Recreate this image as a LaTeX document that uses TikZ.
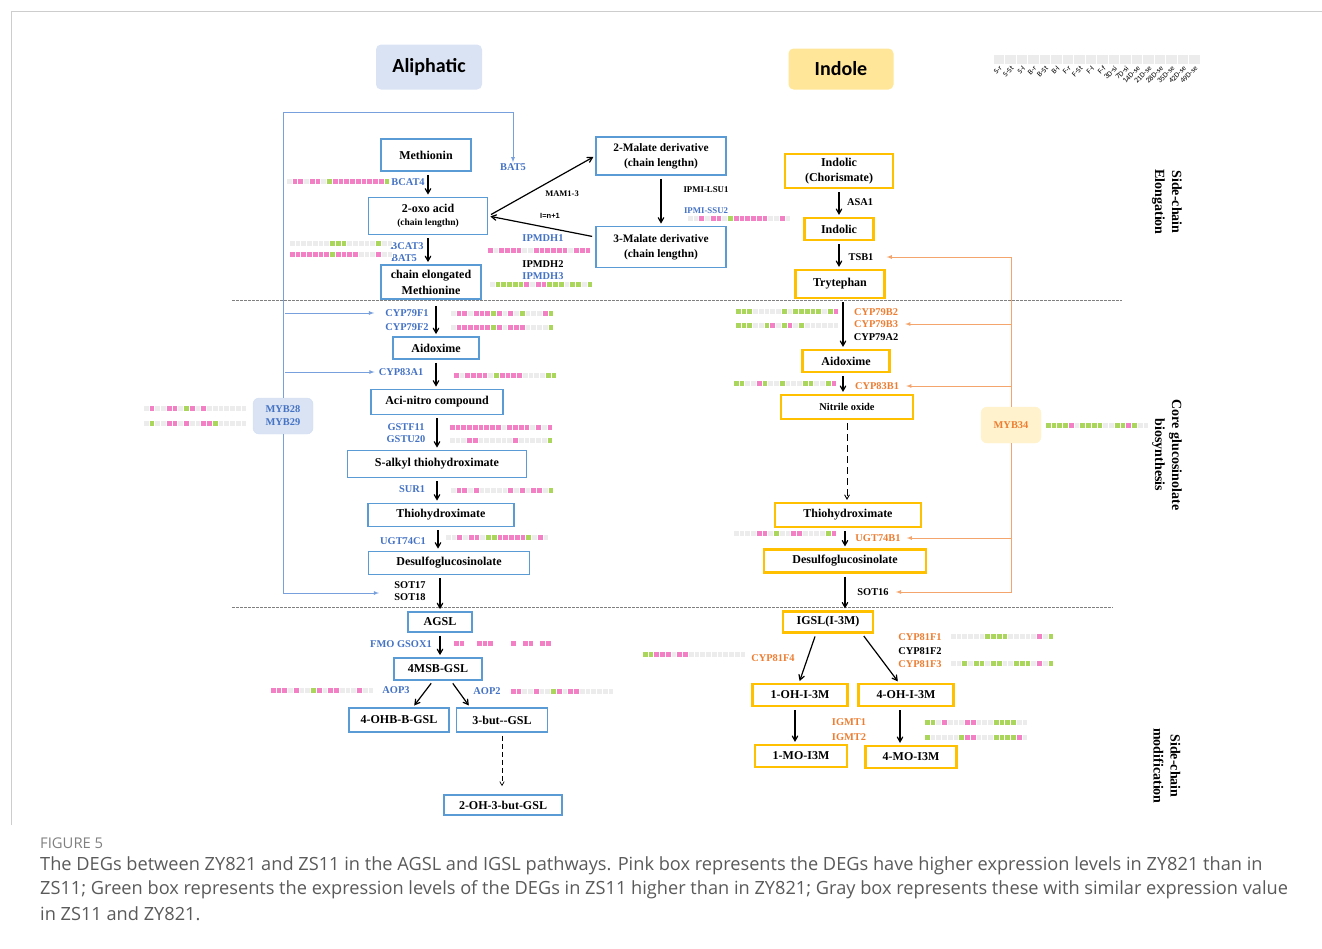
\documentclass[tikz,border=0pt]{standalone}
\usepackage{fontspec}
\setmainfont{Liberation Serif}
\newfontfamily\calibri{Carlito}
\newfontfamily\arialf{Liberation Sans}
\newfontfamily\capfont{Open Sans}
\usetikzlibrary{arrows}

\definecolor{aliblue}{RGB}{91,155,213}
\definecolor{indyel}{RGB}{255,192,0}
\definecolor{genblue}{RGB}{68,114,196}
\definecolor{genorg}{RGB}{237,125,49}
\definecolor{regblue}{RGB}{120,160,220}
\definecolor{regorg}{RGB}{244,165,110}
\definecolor{titblue}{RGB}{218,227,243}
\definecolor{tityel}{RGB}{255,230,153}
\definecolor{mybfill}{RGB}{218,227,243}
\definecolor{mybofill}{RGB}{255,242,204}
\definecolor{heatp}{RGB}{243,128,196}
\definecolor{heatg}{RGB}{169,214,91}
\definecolor{heatx}{RGB}{236,236,236}
\definecolor{heatw}{RGB}{255,255,255}
\definecolor{capgray}{RGB}{90,90,90}
\definecolor{framegray}{RGB}{205,205,205}

\tikzstyle{abox}    = [draw=aliblue, line width=1.8pt, align=center, inner sep=1pt, font=\bfseries\fontsize{12}{16}\selectfont]
\tikzstyle{ibox}    = [draw=indyel, line width=2.2pt, align=center, inner sep=1pt, font=\bfseries\fontsize{12}{15}\selectfont]
\tikzstyle{gene}    = [inner sep=1pt, font=\bfseries\fontsize{10.4}{12}\selectfont]
\tikzstyle{bgene}   = [gene, text=genblue]
\tikzstyle{ogene}   = [gene, text=genorg]
\tikzstyle{sgene}   = [inner sep=1pt, font=\bfseries\fontsize{8.8}{10}\selectfont]
\tikzstyle{flow}    = [->, >=angle 60, line width=1.2pt, shorten >=2pt, shorten <=3pt]
\tikzstyle{breg}    = [draw=regblue, line width=.8pt, -latex]
\tikzstyle{oreg}    = [draw=regorg, line width=.8pt, -latex]
\tikzstyle{dashsep} = [draw=gray, dash pattern=on 2.5pt off 1.5pt, line width=.6pt]
\tikzstyle{sidelab} = [rotate=-90, align=center, font=\bfseries\fontsize{14}{17}\selectfont]
\tikzstyle{titlebox}= [rounded corners=5pt, font=\calibri\bfseries\fontsize{20}{24}\selectfont]
\tikzstyle{regbox}  = [rounded corners=6pt, align=center, minimum width=60pt, minimum height=36pt, font=\bfseries\fontsize{10.4}{13}\selectfont]
\tikzstyle{collab}  = [rotate=45, anchor=east, inner sep=0pt, font=\calibri\fontsize{7.5}{8}\selectfont]
\tikzstyle{captext} = [anchor=west, inner sep=0pt, text=capgray, font=\capfont\fontsize{18.2}{20}\selectfont]

\makeatletter
\newcount\ht@i
\newcommand{\heatrow}[3]{\def\ht@x{#1}\def\ht@y{#2}\ht@i=0 \ht@next#3\relax}
\def\ht@next#1{\ifx#1\relax\let\ht@go\relax\else\def\ht@c{#1}\let\ht@go\ht@cell\fi\ht@go}
\def\ht@cell{\fill[fill=heat\ht@c, draw=white, line width=.4pt] ({\ht@x+5.75*\the\ht@i},{\ht@y-3}) rectangle ++(5.75,6);\advance\ht@i by 1 \ht@next}
\makeatother

\begin{document}
\begin{tikzpicture}[x=1pt, y=-1pt]
      \useasboundingbox (0,0) rectangle (1322,948);
      \draw[framegray, line width=1pt] (11,825) -- (11,11) -- (1322,11);

      \node[titlebox, fill=titblue, minimum width=106pt, minimum height=45pt] (ali)  at (429,67) {Aliphatic};
      \node[titlebox, fill=tityel,  minimum width=105pt, minimum height=41pt] (indl) at (841,69) {Indole};

      \foreach \i in {0,...,17}
        \fill[heatx, draw=white, line width=.5pt] ({993+11.5*\i},54) rectangle ++(11.5,10);
      \foreach \t [count=\i from 0] in {S-r,S-St,S-l,B-r,B-St,B-l,F-r,F-St,F-l,F-f,3D-si,7D-si,14D-se,21D-se,28D-se,35D-se,42D-se,49D-se}
        \node[collab] (col\i) at ({1001+11.5*\i},67) {\t};

      \draw[dashsep] (232,300) -- (1122,300);
      \draw[dashsep] (232,607) -- (1113,607);

      % aliphatic pathway
      \node[abox, minimum width=90pt,  minimum height=32pt] (meth)   at (426,155) {Methionin};
      \node[abox, minimum width=119pt, minimum height=37pt] (oxo)    at (428,216) {2-oxo acid\\[-3pt]{\fontsize{9.5}{11}\selectfont(chain lengthn)}};
      \node[abox, minimum width=100pt, minimum height=34pt] (chain)  at (431,282) {chain elongated\\Methionine};
      \node[abox, minimum width=130pt, minimum height=38pt, font=\bfseries\fontsize{11.4}{15}\selectfont] (mal2) at (661,156) {2-Malate derivative\\(chain lengthn)};
      \node[abox, minimum width=130pt, minimum height=41pt, font=\bfseries\fontsize{11.4}{15}\selectfont] (mal3) at (661,247) {3-Malate derivative\\(chain lengthn)};
      \node[abox, minimum width=86pt,  minimum height=22pt] (aid1)   at (436,348) {Aidoxime};
      \node[abox, minimum width=132pt, minimum height=25pt] (aci)    at (437,402) {Aci-nitro compound};
      \node[abox, minimum width=179pt, minimum height=27pt] (salk)   at (437,464) {S-alkyl thiohydroximate};
      \node[abox, minimum width=146pt, minimum height=23pt] (thio1)  at (441,515) {Thiohydroximate};
      \node[abox, minimum width=161pt, minimum height=23pt] (desulf1) at (449,563) {Desulfoglucosinolate};
      \node[abox, minimum width=64pt,  minimum height=20pt] (agsl)   at (440,622) {AGSL};
      \node[abox, minimum width=88pt,  minimum height=22pt] (msb)    at (438,669) {4MSB-GSL};
      \node[abox, minimum width=100pt, minimum height=24pt] (ohb)    at (399,720) {4-OHB-B-GSL};
      \node[abox, minimum width=91pt,  minimum height=24pt] (but)    at (502,720) {3-but-{}-GSL};
      \node[abox, minimum width=118pt, minimum height=20pt] (oh3)    at (503,805) {2-OH-3-but-GSL};

      % indole pathway
      \node[ibox, minimum width=108pt, minimum height=34pt] (chor)   at (839,171) {Indolic\\(Chorismate)};
      \node[ibox, minimum width=69pt,  minimum height=22pt] (indo)   at (839,229) {Indolic};
      \node[ibox, minimum width=89pt,  minimum height=28pt] (tryp)   at (840,284) {Trytephan};
      \node[ibox, minimum width=87pt,  minimum height=22pt] (aid2)   at (846,361) {Aidoxime};
      \node[ibox, minimum width=132pt, minimum height=24pt, font=\bfseries\fontsize{10.4}{12}\selectfont] (nit) at (847,407) {Nitrile oxide};
      \node[ibox, minimum width=146pt, minimum height=24pt] (thio2)  at (848,515) {Thiohydroximate};
      \node[ibox, minimum width=162pt, minimum height=23pt] (desulf2) at (845,561) {Desulfoglucosinolate};
      \node[ibox, minimum width=90pt,  minimum height=21pt] (igsl)   at (828,622) {IGSL(I-3M)};
      \node[ibox, minimum width=95pt,  minimum height=22pt] (oh1)    at (800,695) {1-OH-I-3M};
      \node[ibox, minimum width=95pt,  minimum height=22pt] (oh4)    at (906,695) {4-OH-I-3M};
      \node[ibox, minimum width=92pt,  minimum height=22pt] (mo1)    at (801,756) {1-MO-I3M};
      \node[ibox, minimum width=91pt,  minimum height=22pt] (mo4)    at (911,757) {4-MO-I3M};

      % enzymes
      \node[bgene] (bcat4)   at (408,182) {BCAT4};
      \node[bgene] (bat5a)   at (513,167) {BAT5};
      \node[bgene] (bcat3)   at (407,246) {BCAT3};
      \node[bgene] (bat5b)   at (404,258) {BAT5};
      \node[gene, font=\bfseries\fontsize{8.5}{10}\selectfont] (mam) at (562,194) {MAM1-3};
      \node[gene, font=\arialf\bfseries\fontsize{7.5}{9}\selectfont] (inc) at (550,216) {I=n+1};
      \node[bgene] (ipmdh1)  at (543,238) {IPMDH1};
      \node[gene]  (ipmdh2)  at (543,264) {IPMDH2};
      \node[bgene] (ipmdh3)  at (543,276) {IPMDH3};
      \node[sgene] (lsu1)    at (706,190) {IPMI-LSU1};
      \node[sgene, text=genblue] (ssu2) at (706,211) {IPMI-SSU2};
      \node[bgene] (cyp79f1) at (407,313) {CYP79F1};
      \node[bgene] (cyp79f2) at (407,327) {CYP79F2};
      \node[bgene] (cyp83a1) at (401,372) {CYP83A1};
      \node[bgene] (gstf11)  at (406,427) {GSTF11};
      \node[bgene] (gstu20)  at (406,439) {GSTU20};
      \node[bgene] (sur1)    at (412,489) {SUR1};
      \node[bgene] (ugt74c1) at (403,541) {UGT74C1};
      \node[gene]  (sot17)   at (410,585) {SOT17};
      \node[gene]  (sot18)   at (410,597) {SOT18};
      \node[bgene] (fmo)     at (401,644) {FMO GSOX1};
      \node[bgene] (aop3)    at (396,690) {AOP3};
      \node[bgene] (aop2)    at (487,691) {AOP2};

      \node[gene]  (asa1)    at (860,202) {ASA1};
      \node[gene]  (tsb1)    at (861,257) {TSB1};
      \node[ogene] (cyp79b2) at (876,312) {CYP79B2};
      \node[ogene] (cyp79b3) at (876,324) {CYP79B3};
      \node[gene]  (cyp79a2) at (876,337) {CYP79A2};
      \node[ogene] (cyp83b1) at (877,386) {CYP83B1};
      \node[ogene] (ugt74b1) at (878,538) {UGT74B1};
      \node[gene]  (sot16)   at (873,592) {SOT16};
      \node[ogene] (cyp81f4) at (773,658) {CYP81F4};
      \node[ogene] (cyp81f1) at (920,637) {CYP81F1};
      \node[gene]  (cyp81f2) at (920,651) {CYP81F2};
      \node[ogene] (cyp81f3) at (920,664) {CYP81F3};
      \node[ogene] (igmt1)   at (849,722) {IGMT1};
      \node[ogene] (igmt2)   at (849,737) {IGMT2};

      % expression strips
      \heatrow{286}{181}{xppxppxgpppppppppg}
      \heatrow{289}{243}{xxxxxxxgggxxxxxgxx}
      \heatrow{289}{254}{pppppppgppppxxxpxx}
      \heatrow{487}{250}{pxppppxxppppppxppp}
      \heatrow{489}{284}{xgggggpxppgggxggxg}
      \heatrow{687}{218}{xxpxppxgppppppxxpx}
      \heatrow{450}{313}{xppxpppgpxpxgxxxpg}
      \heatrow{450}{327}{xppppppgpxpppxxxxg}
      \heatrow{453}{375}{pxppppxgppppxxxxgg}
      \heatrow{449}{427}{pppppppppxppppxpxp}
      \heatrow{449}{440}{xxxppxxxxxxpxxxxxg}
      \heatrow{143}{408}{xpxxppxgpxpxxxxxxx}
      \heatrow{143}{423}{xgxxppxpxxppgxxxxx}
      \heatrow{450}{490}{xppxpxxxxxpxpxppxg}
      \heatrow{445}{537}{xxpxppxggpppppgxpx}
      \heatrow{453}{643}{ppwwpppwwwpwppwppw}
      \heatrow{270}{690}{pppxpxxgpxppxxxpxx}
      \heatrow{510}{691}{ppxxpxxgpxppxxxxxx}
      \heatrow{735}{311}{gggxxxxxgxgggggxgp}
      \heatrow{735}{325}{gggxxgpxgpxgxxxxxx}
      \heatrow{733}{383}{ggxxpgxxgxxxggxxgp}
      \heatrow{1045}{425}{ggggpxggggxxggpgxx}
      \heatrow{733}{533}{xxxxppxgxxppxxxxgp}
      \heatrow{642}{654}{ggpppxppxxxxxxxxxx}
      \heatrow{950}{636}{xxxxxxggggxxxxxpxg}
      \heatrow{950}{663}{xxgxggxggxxgggxpxg}
      \heatrow{924}{722}{ggxpxxxppxxxggggxx}
      \heatrow{924}{737}{gxxxxxgppxxxggggpx}

      % reactions
      \draw[flow] (meth.south -| oxo) -- (oxo.north);
      \draw[flow] (oxo.south) -- (oxo.south |- chain.north);
      \draw[flow] (oxo.east) -- (mal2.west);
      \draw[flow] ([yshift=10pt]mal3.west) -- (oxo.east);
      \draw[flow] (mal2.south) -- (mal3.north);
      \draw[flow, shorten <=6pt] (chain.south -| aid1) -- (aid1.north);
      \draw[flow] (aid1.south) -- (aid1.south |- aci.north);
      \draw[flow] (aci.south) -- (aci.south |- salk.north);
      \draw[flow] (salk.south) -- (salk.south |- thio1.north);
      \draw[flow] ([xshift=-3pt]thio1.south) -- ([xshift=-3pt]thio1.south |- desulf1.north);
      \draw[flow] (desulf1.south -| agsl) -- (agsl.north);
      \draw[flow] (agsl.south) -- (agsl.south |- msb.north);
      \draw[flow] ([xshift=-5pt]msb.south) -- ([xshift=14pt]ohb.north);
      \draw[flow] ([xshift=13pt]msb.south) -- ([xshift=-32pt]but.north);
      \draw[flow, line width=.7pt, dash pattern=on 5pt off 3pt, shorten >=8pt] (but.south) -- (but.south |- oh3.north);

      \draw[flow] (chor.south) -- (indo.north);
      \draw[flow] (indo.south) -- (indo.south |- tryp.north);
      \draw[flow] ([xshift=3pt]tryp.south) -- ([xshift=3pt]tryp.south |- aid2.north);
      \draw[flow] ([xshift=-3pt]aid2.south) -- ([xshift=-3pt]aid2.south |- nit.north);
      \draw[flow, line width=.9pt, dash pattern=on 7pt off 4pt] (nit.south) -- (nit.south |- thio2.north);
      \draw[flow] ([xshift=-3pt]thio2.south) -- ([xshift=-3pt]thio2.south |- desulf2.north);
      \draw[flow] (desulf2.south) -- (desulf2.south |- igsl.north);
      \draw[flow] ([xshift=-12pt]igsl.south) -- ([xshift=-1pt]oh1.north);
      \draw[flow] ([xshift=34pt]igsl.south) -- ([xshift=-7pt]oh4.north);
      \draw[flow] ([xshift=-5pt]oh1.south) -- ([xshift=-6pt]mo1.north);
      \draw[flow] ([xshift=-6pt]oh4.south) -- ([xshift=-11pt]mo4.north);

      % regulators
      \node[regbox, fill=mybfill, draw=regblue!35, text=genblue] (myb) at (283,416) {MYB28\\MYB29};
      \coordinate (btop) at (0,112);
      \coordinate (sotin) at (379,593);
      \draw[breg] (myb.north) -- (myb.north |- btop) -| (bat5a.north);
      \draw[breg] ([xshift=2pt]myb.north |- cyp79f1) -- ([xshift=-10pt]cyp79f1.west);
      \draw[breg] ([xshift=2pt]myb.north |- cyp83a1) -- ([xshift=-3pt]cyp83a1.west);
      \draw[breg] (myb.south) |- (sotin);

      \node[regbox, fill=mybofill, draw=mybofill, text=genorg] (myb34) at (1011,425) {MYB34};
      \draw[oreg] (myb34.north) -- (myb34.north |- tsb1) -- ([xshift=12pt]tsb1.east);
      \draw[oreg] (myb34.north |- cyp79b3) -- ([xshift=6pt]cyp79b3.east);
      \draw[oreg] (myb34.north |- cyp83b1) -- ([xshift=6pt]cyp83b1.east);
      \draw[oreg] (myb34.south |- ugt74b1) -- ([xshift=5pt]ugt74b1.east);
      \draw[oreg] (myb34.south) -- (myb34.south |- sot16) -- ([xshift=6pt]sot16.east);

      \node[sidelab] (se) at (1167,202) {Side-chain\\Elongation};
      \node[sidelab] (cg) at (1167,455) {Core glucosinolate\\biosynthesis};
      \node[sidelab] (sm) at (1167,766) {Side-chain\\modification};

      \node[captext, text=gray, font=\capfont\fontsize{14.8}{16}\selectfont] (fig) at (40,843) {FIGURE 5};
      \node[captext] (cap1) at (40,866) {The DEGs between ZY821 and ZS11 in the AGSL and IGSL pathways. Pink box represents the DEGs have higher expression levels in ZY821 than in};
      \node[captext] (cap2) at (40,890) {ZS11; Green box represents the expression levels of the DEGs in ZS11 higher than in ZY821; Gray box represents these with similar expression value};
      \node[captext] (cap3) at (40,914) {in ZS11 and ZY821.};
\end{tikzpicture}
\end{document}
